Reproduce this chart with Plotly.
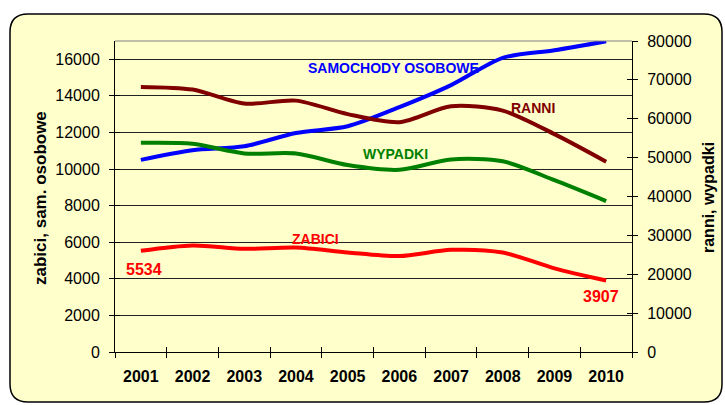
import plotly.graph_objects as go

years = ["2001", "2002", "2003", "2004", "2005", "2006", "2007", "2008", "2009", "2010"]
samochody = [10503, 11029, 11244, 11975, 12339, 13384, 14589, 16080, 16495, 16990]
zabici = [5534, 5827, 5640, 5712, 5444, 5243, 5583, 5437, 4572, 3907]
ranni = [68194, 67498, 63900, 64661, 61191, 59123, 63224, 62097, 56046, 48952]
wypadki = [53799, 53559, 51078, 51069, 48100, 46876, 49536, 49054, 44196, 38832]

left_ticks = list(range(0, 16001, 2000))
right_ticks = list(range(0, 80001, 10000))

W, H = 725, 405
PL, PR, PT, PB = 115, 632, 41, 352
BG = "#FFFFCC"
FONT = "Liberation Sans, Arial, sans-serif"


def px(x):
    return (x - PL) / (PR - PL)


def py(y):
    return (PB - y) / (PB - PT)


fig = go.Figure()

fig.add_trace(go.Scatter(x=years, y=samochody, mode="lines", name="SAMOCHODY OSOBOWE",
                         line=dict(color="#0000FF", width=4, shape="spline", smoothing=0.8),
                         yaxis="y", showlegend=False))
fig.add_trace(go.Scatter(x=years, y=zabici, mode="lines", name="ZABICI",
                         line=dict(color="#FF0000", width=4, shape="spline", smoothing=0.8),
                         yaxis="y", showlegend=False))
fig.add_trace(go.Scatter(x=years, y=ranni, mode="lines", name="RANNI",
                         line=dict(color="#800000", width=4, shape="spline", smoothing=0.8),
                         yaxis="y2", showlegend=False))
fig.add_trace(go.Scatter(x=years, y=wypadki, mode="lines", name="WYPADKI",
                         line=dict(color="#008000", width=4, shape="spline", smoothing=0.8),
                         yaxis="y2", showlegend=False))

# invisible helper traces to register overlay axes used for crossing tick marks
fig.add_trace(go.Scatter(x=years, y=[None] * len(years), xaxis="x2", yaxis="y3",
                         showlegend=False, hoverinfo="skip"))
fig.add_trace(go.Scatter(x=years, y=[None] * len(years), xaxis="x2", yaxis="y4",
                         showlegend=False, hoverinfo="skip"))

# rounded chart frame
x0, y0, x1, y1, r = 10, 14, 722, 402, 18
path = (
    f"M {px(x0 + r)} {py(y0)} L {px(x1 - r)} {py(y0)} "
    f"Q {px(x1)} {py(y0)} {px(x1)} {py(y0 + r)} "
    f"L {px(x1)} {py(y1 - r)} Q {px(x1)} {py(y1)} {px(x1 - r)} {py(y1)} "
    f"L {px(x0 + r)} {py(y1)} Q {px(x0)} {py(y1)} {px(x0)} {py(y1 - r)} "
    f"L {px(x0)} {py(y0 + r)} Q {px(x0)} {py(y0)} {px(x0 + r)} {py(y0)} Z"
)
fig.add_shape(type="path", path=path, xref="paper", yref="paper",
              fillcolor=BG, line=dict(color="black", width=1.5), layer="below")
# top border of plot area
fig.add_shape(type="line", xref="paper", yref="paper", x0=0, x1=1, y0=1, y1=1,
              line=dict(color="#808080", width=1))

tickfont = dict(family=FONT, size=16, color="black")

fig.update_layout(
    width=W, height=H,
    margin=dict(l=PL, r=W - PR, t=PT, b=H - PB, pad=0, autoexpand=False),
    paper_bgcolor="white",
    plot_bgcolor="rgba(0,0,0,0)",
    showlegend=False,
    xaxis=dict(type="category", categoryarray=years, range=[-0.5, 9.5],
               tickson="boundaries", ticks="outside", ticklen=5, tickcolor="black",
               showline=True, linecolor="black", linewidth=1, showgrid=False,
               tickfont=dict(family=FONT, size=16, color="black", weight="bold"),
               ticklabelstandoff=10, zeroline=False, fixedrange=True, automargin=False),
    xaxis2=dict(type="category", categoryarray=years, range=[-0.5, 9.5],
                overlaying="x", anchor="y3", side="bottom",
                tickson="boundaries", ticks="inside", ticklen=5, tickcolor="black",
                showticklabels=False, showline=False, showgrid=False, zeroline=False,
                automargin=False),
    yaxis=dict(range=[0, 17000], tickvals=left_ticks, tickformat="d", ticks="outside", ticklen=5,
               tickcolor="black", showline=True, linecolor="black", linewidth=1,
               showgrid=True, gridcolor="#222222", gridwidth=1, zeroline=False,
               tickfont=tickfont, ticklabelstandoff=6, automargin=False),
    yaxis2=dict(range=[0, 80000], tickvals=right_ticks, tickformat="d", overlaying="y", side="right",
                anchor="x", ticks="outside", ticklen=5, tickcolor="black",
                showline=True, linecolor="black", linewidth=1, showgrid=False,
                zeroline=False, tickfont=tickfont, ticklabelstandoff=6, automargin=False),
    yaxis3=dict(range=[0, 17000], tickvals=left_ticks, overlaying="y", side="left",
                anchor="x2", ticks="inside", ticklen=5, tickcolor="black",
                showticklabels=False, showline=False, showgrid=False, zeroline=False,
                automargin=False),
    yaxis4=dict(range=[0, 80000], tickvals=right_ticks, overlaying="y", side="right",
                anchor="x2", ticks="inside", ticklen=5, tickcolor="black",
                showticklabels=False, showline=False, showgrid=False, zeroline=False,
                automargin=False),
)

labels = [
    ("SAMOCHODY OSOBOWE", 393, 68, "#0000FF", 14),
    ("RANNI", 533, 108, "#800000", 14),
    ("WYPADKI", 395, 154, "#008000", 14),
    ("ZABICI", 315, 239, "#FF0000", 14),
    ("5534", 144, 269, "#FF0000", 16),
    ("3907", 601, 296, "#FF0000", 16),
]
for text, lx, ly, col, sz in labels:
    fig.add_annotation(text=text, x=px(lx), y=py(ly), xref="paper", yref="paper",
                       showarrow=False, xanchor="center", yanchor="middle",
                       font=dict(family=FONT, size=sz, color=col, weight="bold"))

fig.add_annotation(text="zabici, sam. osobowe", x=px(40), y=py(198), xref="paper", yref="paper",
                   showarrow=False, textangle=-90, xanchor="center", yanchor="middle",
                   font=dict(family=FONT, size=17, color="black", weight="bold"))
fig.add_annotation(text="ranni, wypadki", x=px(708), y=py(198), xref="paper", yref="paper",
                   showarrow=False, textangle=-90, xanchor="center", yanchor="middle",
                   font=dict(family=FONT, size=16, color="black", weight="bold"))

fig.write_html("out.html", config={"displayModeBar": False},
               post_script="document.body.style.margin='0';document.body.style.overflow='hidden';")
